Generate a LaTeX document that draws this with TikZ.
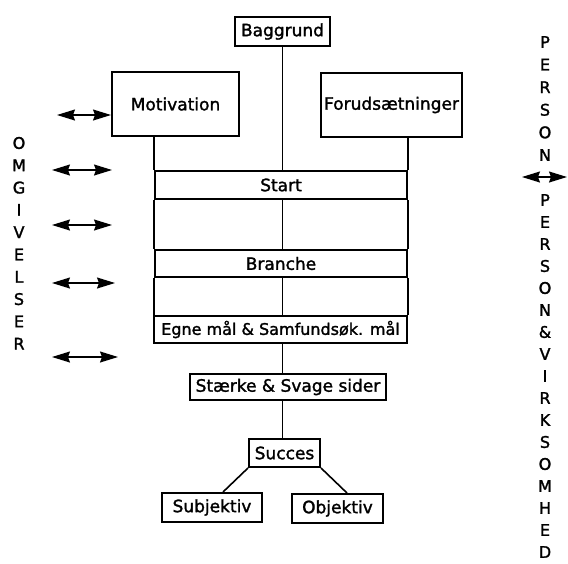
\documentclass[tikz,border=0pt]{standalone}
\usepackage{fontspec}
\setmainfont[FakeBold=1.6]{DejaVu Sans}
\usetikzlibrary{arrows.meta,calc}
\tikzset{
  box/.style={draw, line width=2pt, inner sep=0pt, font=\fontsize{17}{19}\selectfont},
  link/.style={line width=1.6pt},
  twoway/.style={line width=1.3pt, {Stealth[length=18pt,width=11pt,inset=2pt]}-{Stealth[length=18pt,width=11pt,inset=2pt]}},
  letter/.style={inner sep=0pt, font=\fontsize{16}{18}\selectfont},
}
\begin{document}
\begin{tikzpicture}[x=1pt,y=-1pt]
\useasboundingbox (0,0) rectangle (568,563);
% boxes
\node[box, minimum width=95pt, minimum height=29pt] (bag) at (282.5,31.5) {Baggrund};
\node[box, minimum width=127pt, minimum height=64pt] (mot) at (175.5,104) {Motivation};
\node[box, minimum width=141pt, minimum height=64pt] (for) at (391.5,105) {Forudsætninger};
\node[box, minimum width=252pt, minimum height=28pt] (start) at (281,185) {Start};
\node[box, minimum width=252pt, minimum height=27pt] (bra) at (281,263.5) {Branche};
\node[box, minimum width=253pt, minimum height=27pt, font=\fontsize{16}{18}\selectfont] (egne) at (280.5,329.5) {Egne mål \& Samfundsøk. mål};
\node[box, minimum width=196pt, minimum height=26pt] (stae) at (288,387) {Stærke \& Svage sider};
\node[box, minimum width=71pt, minimum height=28pt] (suc) at (284.5,453) {Succes};
\node[box, minimum width=100pt, minimum height=29pt] (sub) at (212,507.5) {Subjektiv};
\node[box, minimum width=91pt, minimum height=29pt] (obj) at (337.5,508.5) {Objektiv};
% connectors
\coordinate (cx) at (282.5,0);
\draw[link] (bag.south) -- (bag.south |- start.north);
\draw[link] (start.north west) -- (start.north west |- mot.south);
\draw[link] (start.north east) -- (start.north east |- for.south);
\draw[link] (start.south west) -- (bra.north west);
\draw[link] (start.south -| cx) -- (bra.north -| cx);
\draw[link] (start.south east) -- (bra.north east);
\draw[link] (bra.south west) -- (egne.north west -| bra.south west);
\draw[link] (bra.south -| cx) -- (egne.north -| cx);
\draw[link] (bra.south east) -- (egne.north east);
\draw[link] (egne.south -| cx) -- (stae.north -| cx);
\draw[link] (stae.south -| cx) -- (suc.north -| cx);
\draw[link] (suc.south west) -- ($(sub.north)+(11,0)$);
\draw[link] (suc.south east) -- ($(obj.north)+(9.5,0)$);
% left arrows
\coordinate (l1) at (57,115);
\coordinate (l2a) at (52,170); \coordinate (l2b) at (112,170);
\coordinate (l3a) at (52,225); \coordinate (l3b) at (112,225);
\coordinate (l4a) at (52,283); \coordinate (l4b) at (115,283);
\coordinate (l5a) at (52,357); \coordinate (l5b) at (118,357);
\draw[twoway] (l1) -- (l1 -| mot.west);
\draw[twoway] (l2a) -- (l2b);
\draw[twoway] (l3a) -- (l3b);
\draw[twoway] (l4a) -- (l4b);
\draw[twoway] (l5a) -- (l5b);
% right arrow
\coordinate (r1a) at (522,177); \coordinate (r1b) at (567,177);
\draw[twoway] (r1a) -- (r1b);
% vertical words
\foreach \ch [count=\i from 0] in {O,M,G,I,V,E,L,S,E,R}
  \node[letter] (om\i) at (19,143+22.3*\i) {\ch};
\foreach \ch [count=\i from 0] in {P,E,R,S,O,N}
  \node[letter] (pe\i) at (545,42+22.6*\i) {\ch};
\foreach \ch [count=\i from 0] in {P,E,R,S,O,N,\&,V,I,R,K,S,O,M,H,E,D}
  \node[letter] (pv\i) at (545,200+22.0*\i) {\ch};
\end{tikzpicture}
\end{document}
